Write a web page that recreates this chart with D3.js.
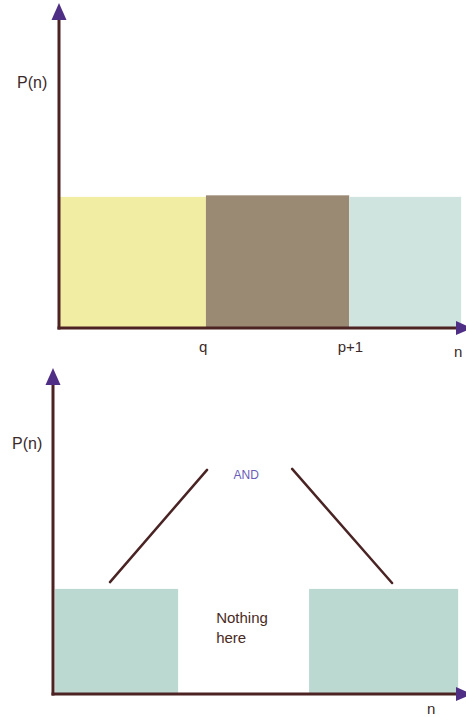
<!DOCTYPE html>
<html>
<head>
<meta charset="utf-8">
<script src="https://cdn.jsdelivr.net/npm/d3@7"></script>
<style>
  html, body { margin: 0; padding: 0; background: #fff; }
  svg { display: block; font-family: "Liberation Sans", Arial, sans-serif; }
</style>
</head>
<body>
<svg id="chart" width="466" height="717"></svg>
<script>
// Top panel: three adjacent blocks along n
const topBlocks = [
  { name: "low",  x0: 0,    x1: 36.1, h: 42.3, color: "#f1eda2" },
  { name: "mid",  x0: 36.1, x1: 71.3, h: 42.8, color: "#9a8a74" },
  { name: "high", x0: 71.3, x1: 98.8, h: 42.3, color: "#cfe3df" }
];
const topTicks = [
  { label: "q",   at: 35.4 },
  { label: "p+1", at: 71.6 }
];

// Bottom panel: two blocks with a gap between them
const bottomBlocks = [
  { name: "left",  x0: 0.5,  x1: 30.3, h: 33.9, color: "#bcd9d1" },
  { name: "right", x0: 62.0, x1: 98.1, h: 33.9, color: "#bcd9d1" }
];
// Connector strokes pointing to the "AND" note
const connectors = [
  [[13.8, 36.1], [37.3, 72.3]],
  [[57.9, 72.6], [82.1, 35.8]]
];
const notes = [
  { text: "AND", x: 46.8, y: 69.3, color: "#6a5cb8", size: 12, anchor: "middle" },
  { text: "Nothing", x: 39.5, y: 23.0, color: "#4a2a24", size: 15, anchor: "start" },
  { text: "here", x: 39.5, y: 16.6, color: "#4a2a24", size: 15, anchor: "start" }
];

const axisColor = "#4c2222";
const arrowColor = "#4f2f86";
const labelColor = "#3a2a2a";
const svg = d3.select("#chart");

function drawPanel(g, cfg) {
  const x = d3.scaleLinear().domain([0, 100]).range([cfg.left, cfg.right]);
  const y = d3.scaleLinear().domain([0, 100]).range([cfg.bottom, cfg.top]);

  g.selectAll("rect.block")
    .data(cfg.blocks)
    .join("rect")
    .attr("class", "block")
    .attr("x", d => x(d.x0))
    .attr("y", d => y(d.h))
    .attr("width", d => x(d.x1) - x(d.x0))
    .attr("height", d => y(0) - y(d.h))
    .attr("fill", d => d.color);

  // axes
  g.append("line")
    .attr("x1", x(0)).attr("y1", y(0) + 1.5)
    .attr("x2", x(0)).attr("y2", cfg.axisTop)
    .attr("stroke", axisColor).attr("stroke-width", 3);
  g.append("line")
    .attr("x1", x(0) - 1.5).attr("y1", y(0))
    .attr("x2", cfg.axisRight).attr("y2", y(0))
    .attr("stroke", axisColor).attr("stroke-width", 3);

  // arrowheads
  const ax = x(0);
  g.append("path")
    .attr("d", `M${ax},${cfg.axisTop - 15} L${ax + 7.5},${cfg.axisTop + 2} L${ax - 7.5},${cfg.axisTop + 2} Z`)
    .attr("fill", arrowColor);
  const ay = y(0);
  g.append("path")
    .attr("d", `M${cfg.axisRight + 14},${ay} L${cfg.axisRight - 2},${ay - 7} L${cfg.axisRight - 2},${ay + 7} Z`)
    .attr("fill", arrowColor);

  g.append("text")
    .attr("x", cfg.yLabelX).attr("y", cfg.yLabelY)
    .attr("font-size", 16).attr("fill", labelColor)
    .text("P(n)");

  g.append("text")
    .attr("x", cfg.nLabelX).attr("y", cfg.nLabelY)
    .attr("font-size", 15).attr("fill", labelColor)
    .text("n");

  return { x, y };
}

// ---- top panel ----
const gTop = svg.append("g");
const topScales = drawPanel(gTop, {
  left: 59, right: 466, bottom: 328, top: 18,
  axisTop: 18, axisRight: 458,
  blocks: topBlocks,
  yLabelX: 17, yLabelY: 88,
  nLabelX: 454, nLabelY: 357
});
gTop.selectAll("text.tick")
  .data(topTicks)
  .join("text")
  .attr("class", "tick")
  .attr("x", d => topScales.x(d.at))
  .attr("y", 352)
  .attr("text-anchor", "middle")
  .attr("font-size", 15).attr("fill", labelColor)
  .text(d => d.label);

// ---- bottom panel ----
const gBot = svg.append("g");
const botScales = drawPanel(gBot, {
  left: 53, right: 466, bottom: 694, top: 384,
  axisTop: 383, axisRight: 458,
  blocks: bottomBlocks,
  yLabelX: 12, yLabelY: 449,
  nLabelX: 427, nLabelY: 714
});

const line = d3.line().x(d => botScales.x(d[0])).y(d => botScales.y(d[1]));
gBot.selectAll("path.connector")
  .data(connectors)
  .join("path")
  .attr("class", "connector")
  .attr("d", line)
  .attr("fill", "none")
  .attr("stroke", "#4a2424")
  .attr("stroke-width", 2.5)
  .attr("stroke-linecap", "round");

gBot.selectAll("text.note")
  .data(notes)
  .join("text")
  .attr("class", "note")
  .attr("x", d => botScales.x(d.x))
  .attr("y", d => botScales.y(d.y))
  .attr("font-size", d => d.size)
  .attr("fill", d => d.color)
  .attr("text-anchor", d => d.anchor)
  .text(d => d.text);
</script>
</body>
</html>
